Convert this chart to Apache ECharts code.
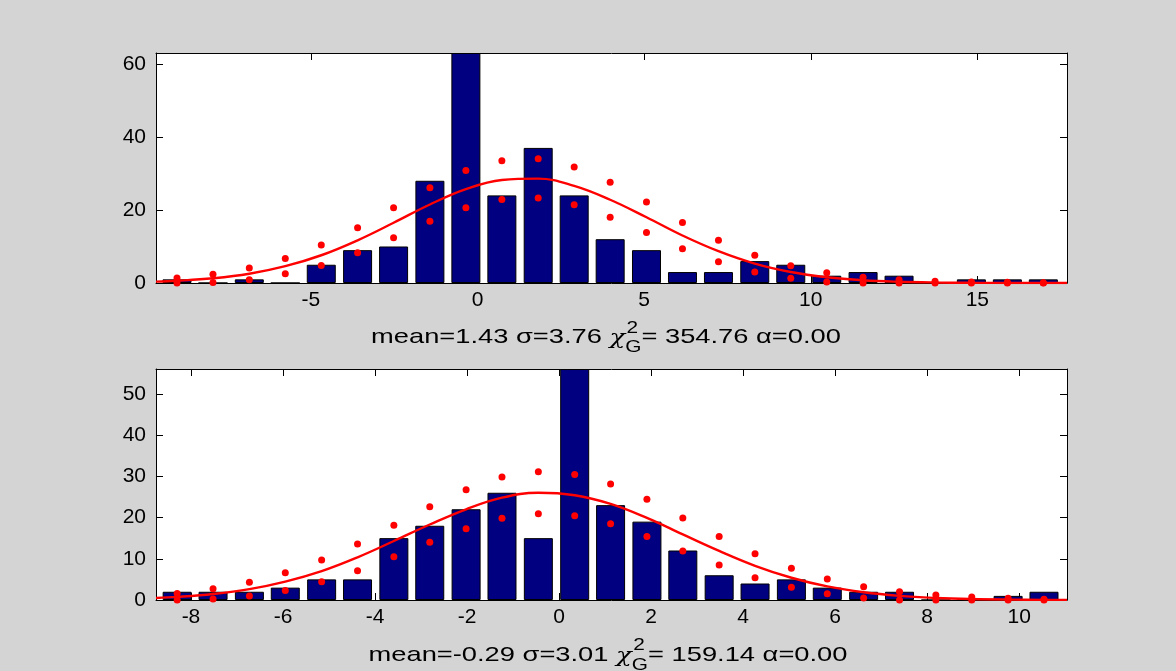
<!DOCTYPE html>
<html>
<head>
<meta charset="utf-8">
<script src="https://cdn.jsdelivr.net/npm/echarts@6/dist/echarts.min.js"></script>
<style>
  html, body { margin: 0; padding: 0; background: #d4d4d4; }
  #chart { width: 1176px; height: 671px; }
</style>
</head>
<body>
<div id="chart"></div>
<script>
// --- top histogram (mean=1.43) ---
const topCenters = [-9.02, -7.94, -6.85, -5.77, -4.69, -3.60, -2.52, -1.43, -0.35, 0.73, 1.82, 2.90, 3.98,
  5.07, 6.15, 7.23, 8.32, 9.40, 10.48, 11.57, 12.65, 13.73, 14.82, 15.90, 16.98]
const topCounts = [1, 0, 1, 0, 5, 9, 10, 28, 63, 24, 37, 24, 12, 9, 3, 3, 6, 5, 2, 3, 2, 0, 1, 1, 1]
const topDotHi = [1.4, 2.4, 4.1, 6.7, 10.4, 15.1, 20.6, 26.1, 30.8, 33.5, 34.0, 31.8, 27.6, 22.2, 16.6,
  11.7, 7.6, 4.7, 2.8, 1.6, 0.9, 0.5, 0.3, 0.2, 0.1]
const topDotLo = [0, 0.15, 0.9, 2.5, 4.8, 8.3, 12.4, 16.9, 20.6, 22.9, 23.3, 21.4, 18.0, 13.8, 9.4,
  5.8, 3.0, 1.3, 0.3, 0, 0, 0, 0, 0, 0]
const topCurveX = [-9.65, -9.02, -7.94, -6.85, -5.77, -4.69, -3.60, -2.52, -1.43, -0.35, 0.73, 1.82, 2.90,
  3.98, 5.07, 6.15, 7.23, 8.32, 9.40, 10.48, 11.57, 12.65, 13.73, 14.82, 15.90, 16.98, 17.69]
const topCurveY = [0.37, 0.60, 1.29, 2.53, 4.6, 7.6, 11.7, 16.5, 21.5, 25.7, 28.2, 28.6, 26.6,
  22.8, 18.0, 13.0, 8.7, 5.3, 3.0, 1.58, 0.75, 0.34, 0.14, 0.05, 0.02, 0.01, 0.0]
const topXTicks = [-5, 0, 5, 10, 15]
const topYTicks = [0, 20, 40, 60]
const topCaption = ['mean=1.43 σ=3.76 ', 'χ', '2', 'G', '= 354.76 α=0.00']

// --- bottom histogram (mean=-0.29) ---
const botCenters = [-8.30, -7.52, -6.73, -5.95, -5.16, -4.38, -3.59, -2.81, -2.02, -1.24, -0.45, 0.34, 1.12,
  1.91, 2.69, 3.48, 4.26, 5.05, 5.83, 6.62, 7.40, 8.19, 8.97, 9.76, 10.54]
const botCounts = [2, 2, 2, 3, 5, 5, 15, 18, 22, 26, 15, 56, 23, 19, 12, 6, 4, 5, 3, 2, 2, 0, 0, 1, 2]
const botDotHi = [1.6, 2.7, 4.3, 6.6, 9.7, 13.6, 18.1, 22.6, 26.7, 29.8, 31.1, 30.4, 28.1, 24.4, 19.9,
  15.4, 11.2, 7.7, 5.1, 3.2, 2.0, 1.2, 0.7, 0.4, 0.2]
const botDotLo = [0, 0.25, 1.0, 2.3, 4.4, 7.1, 10.5, 14.0, 17.3, 19.8, 20.9, 20.4, 18.5, 15.4, 11.9,
  8.5, 5.4, 3.1, 1.5, 0.5, 0, 0, 0, 0, 0]
const botCurveX = [-8.76, -8.30, -7.52, -6.73, -5.95, -5.16, -4.38, -3.59, -2.81, -2.02, -1.24, -0.45, 0.34,
  1.12, 1.91, 2.69, 3.48, 4.26, 5.05, 5.83, 6.62, 7.40, 8.19, 8.97, 9.76, 10.54, 11.04]
const botCurveY = [0.50, 0.75, 1.46, 2.63, 4.45, 7.0, 10.35, 14.3, 18.3, 22.0, 24.8, 26.0, 25.4,
  23.3, 19.9, 15.9, 11.9, 8.3, 5.4, 3.3, 1.87, 1.00, 0.50, 0.23, 0.10, 0.04, 0.02]
const botXTicks = [-8, -6, -4, -2, 0, 2, 4, 6, 8, 10]
const botYTicks = [0, 10, 20, 30, 40, 50]
const botCaption = ['mean=-0.29 σ=3.01 ', 'χ', '2', 'G', '= 159.14 α=0.00']

const FONT = 'Liberation Sans'
const GREEK = 'DejaVu Serif'
const BAR = '#000080'
const RED = '#ff0000'

const measureCtx = document.createElement('canvas').getContext('2d')
function textWidth(s, size, family, style) {
  measureCtx.font = (style || '') + ' ' + size + 'px "' + (family || FONT) + '"'
  return measureCtx.measureText(s).width
}

// caption with chi and stacked super/subscript
function caption(parts, cx, cy, supDy, subDy) {
  const [head, chi, sup, sub, tail] = parts
  const wHead = textWidth(head, 21)
  const wChi = textWidth(chi, 20, GREEK, 'italic')
  const wScript = Math.max(textWidth(sup, 16), textWidth(sub, 16))
  const x0 = -(wHead + wChi + wScript + textWidth(tail, 21)) / 2
  const t = (text, x, y, size, extra) => ({
    type: 'text', x, y,
    style: Object.assign({ text, fontFamily: FONT, fontSize: size, fill: '#000',
      textVerticalAlign: 'middle', verticalAlign: 'middle' }, extra || {})
  })
  return {
    type: 'group', x: cx, y: cy, scaleX: 1.3,
    children: [
      t(head, x0, 0, 21),
      t(chi, x0 + wHead, 2, 20, { fontFamily: GREEK, fontStyle: 'italic' }),
      t(sup, x0 + wHead + wChi + 1, supDy, 16),
      t(sub, x0 + wHead + wChi, subDy, 16),
      t(tail, x0 + wHead + wChi + wScript, 0, 21)
    ]
  }
}

const frameLine = { show: true, onZero: false, lineStyle: { color: '#000', width: 1 } }

function xAxes(gridIndex, min, max, ticks) {
  const base = { type: 'value', gridIndex, min, max, splitLine: { show: false }, axisLine: frameLine }
  return [
    { ...base, position: 'bottom',
      axisTick: { inside: true, length: 7, lineStyle: { color: '#000' }, customValues: ticks },
      axisLabel: { customValues: ticks, color: '#000', fontFamily: FONT, fontSize: 21, margin: 7 } },
    { ...base, position: 'top',
      axisTick: { inside: true, length: 7, lineStyle: { color: '#000' }, customValues: ticks },
      axisLabel: { show: false } }
  ]
}

function yAxes(gridIndex, max, ticks) {
  const base = { type: 'value', gridIndex, min: 0, max, splitLine: { show: false }, axisLine: frameLine }
  return [
    { ...base, position: 'left',
      axisTick: { inside: true, length: 7, lineStyle: { color: '#000' }, customValues: ticks },
      axisLabel: { customValues: ticks, color: '#000', fontFamily: FONT, fontSize: 21, margin: 10 } },
    { ...base, position: 'right',
      axisTick: { inside: true, length: 7, lineStyle: { color: '#000' }, customValues: ticks },
      axisLabel: { show: false } }
  ]
}

function seriesFor(axisIdx, centers, counts, curveX, curveY, hi, lo) {
  return [
    {
      type: 'bar', xAxisIndex: axisIdx, yAxisIndex: axisIdx, barWidth: 29,
      itemStyle: { color: BAR, borderColor: '#000', borderWidth: 1 },
      data: centers.map((x, i) => [x, counts[i]])
    },
    {
      type: 'line', xAxisIndex: axisIdx, yAxisIndex: axisIdx, smooth: 0.4, showSymbol: false,
      lineStyle: { color: RED, width: 2.4 },
      data: curveX.map((x, i) => [x, curveY[i]])
    },
    {
      type: 'scatter', xAxisIndex: axisIdx, yAxisIndex: axisIdx, symbolSize: 7, clip: false,
      itemStyle: { color: RED, opacity: 1 },
      data: centers.map((x, i) => [x, hi[i]]).concat(centers.map((x, i) => [x, lo[i]]))
    }
  ]
}

const chart = echarts.init(document.getElementById('chart'))
const topX = xAxes(0, -9.65, 17.69, topXTicks)
const botX = xAxes(1, -8.76, 11.04, botXTicks)
const topY = yAxes(0, 63, topYTicks)
const botY = yAxes(1, 56, botYTicks)

chart.setOption({
  animation: false,
  backgroundColor: '#d4d4d4',
  grid: [
    { left: 156, top: 53, width: 911, height: 230, backgroundColor: '#fff', show: true, borderWidth: 0 },
    { left: 156, top: 369, width: 911, height: 231, backgroundColor: '#fff', show: true, borderWidth: 0 }
  ],
  // axis order: 0 top-bottom, 1 top-top, 2 bot-bottom, 3 bot-top
  xAxis: [topX[0], topX[1], botX[0], botX[1]],
  yAxis: [topY[0], topY[1], botY[0], botY[1]],
  series: [
    ...seriesFor(0, topCenters, topCounts, topCurveX, topCurveY, topDotHi, topDotLo),
    ...seriesFor(2, botCenters, botCounts, botCurveX, botCurveY, botDotHi, botDotLo)
  ],
  graphic: [
    caption(topCaption, 606, 337, -8, 11),
    caption(botCaption, 608, 655, -9, 11)
  ]
})
</script>
</body>
</html>
